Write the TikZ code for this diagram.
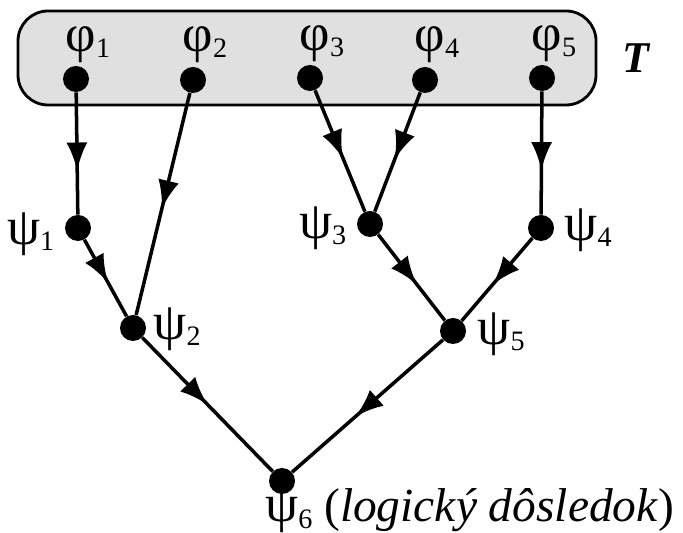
\documentclass[tikz,border=0pt]{standalone}
\usepackage{fontspec}
\setmainfont{Liberation Serif}
\usetikzlibrary{arrows.meta,decorations.markings,positioning}

% greek letter with a small index
\newcommand{\gl}[2]{{\fontsize{30}{30}\selectfont #1}\raisebox{-0.14em}{\fontsize{16}{16}\selectfont #2}}

\tikzset{
  dot/.style={circle,fill=black,inner sep=0pt,minimum size=0.52cm},
  lab/.style={font=\fontsize{27}{30}\selectfont,inner sep=0pt},
  arr/.style={line width=2pt,postaction={decorate},
    decoration={markings,mark=at position #1 with {\arrow{Latex[length=16pt,width=12pt]}}}},
  arr/.default=0.56
}

\begin{document}
\begin{tikzpicture}
\useasboundingbox (0,0) rectangle (13.66,10.66);
% theory T
\draw[fill=black!12,line width=1.6pt,rounded corners=0.6cm] (0.36,8.56) rectangle (11.92,10.44);
\node[font=\bfseries\itshape\fontsize{25}{30}\selectfont,inner sep=0pt] (T) at (12.72,9.5) {T};

\node[dot] (f1) at (1.52,9.08) {};
\node[dot] (f2) at (3.86,9.06) {};
\node[dot] (f3) at (6.2,9.1) {};
\node[dot] (f4) at (8.5,9.06) {};
\node[dot] (f5) at (10.84,9.1) {};
\node[lab,above=0.06cm of f1,xshift=0.24cm] (lf1) {\gl{φ}{1}};
\node[lab,above=0.08cm of f2,xshift=0.24cm] (lf2) {\gl{φ}{2}};
\node[lab,above=0.06cm of f3,xshift=0.24cm] (lf3) {\gl{φ}{3}};
\node[lab,above=0.08cm of f4,xshift=0.24cm] (lf4) {\gl{φ}{4}};
\node[lab,above=0.06cm of f5,xshift=0.24cm] (lf5) {\gl{φ}{5}};

% consequences
\node[dot] (s1) at (1.56,6.1) {};
\node[dot] (s2) at (2.66,4.1) {};
\node[dot] (s3) at (7.4,6.18) {};
\node[dot] (s4) at (10.82,6.1) {};
\node[dot] (s5) at (9.06,4.04) {};
\node[dot] (s6) at (5.64,1.04) {};
\node[lab,left=0.2cm of s1,yshift=-0.12cm] (ls1) {\gl{ψ}{1}};
\node[lab,right=0.14cm of s2,yshift=-0.02cm] (ls2) {\gl{ψ}{2}};
\node[lab,left=0.2cm of s3,yshift=-0.08cm] (ls3) {\gl{ψ}{3}};
\node[lab,right=0.2cm of s4,yshift=-0.04cm] (ls4) {\gl{ψ}{4}};
\node[lab,right=0.22cm of s5,yshift=-0.06cm] (ls5) {\gl{ψ}{5}};
\node[lab,anchor=base west] (ls6) at (5.3,0.22) {\gl{ψ}{6} (\textit{logický dôsledok})};

\draw[arr=0.64] (f1) -- (s1);
\draw[arr=0.52] (f2) -- (s2);
\draw[arr] (s1) -- (s2);
\draw[arr] (f3) -- (s3);
\draw[arr] (f4) -- (s3);
\draw[arr=0.64] (f5) -- (s4);
\draw[arr=0.58] (s3) -- (s5);
\draw[arr] (s4) -- (s5);
\draw[arr=0.5] (s2) -- (s6);
\draw[arr=0.58] (s5) -- (s6);
\end{tikzpicture}
\end{document}
